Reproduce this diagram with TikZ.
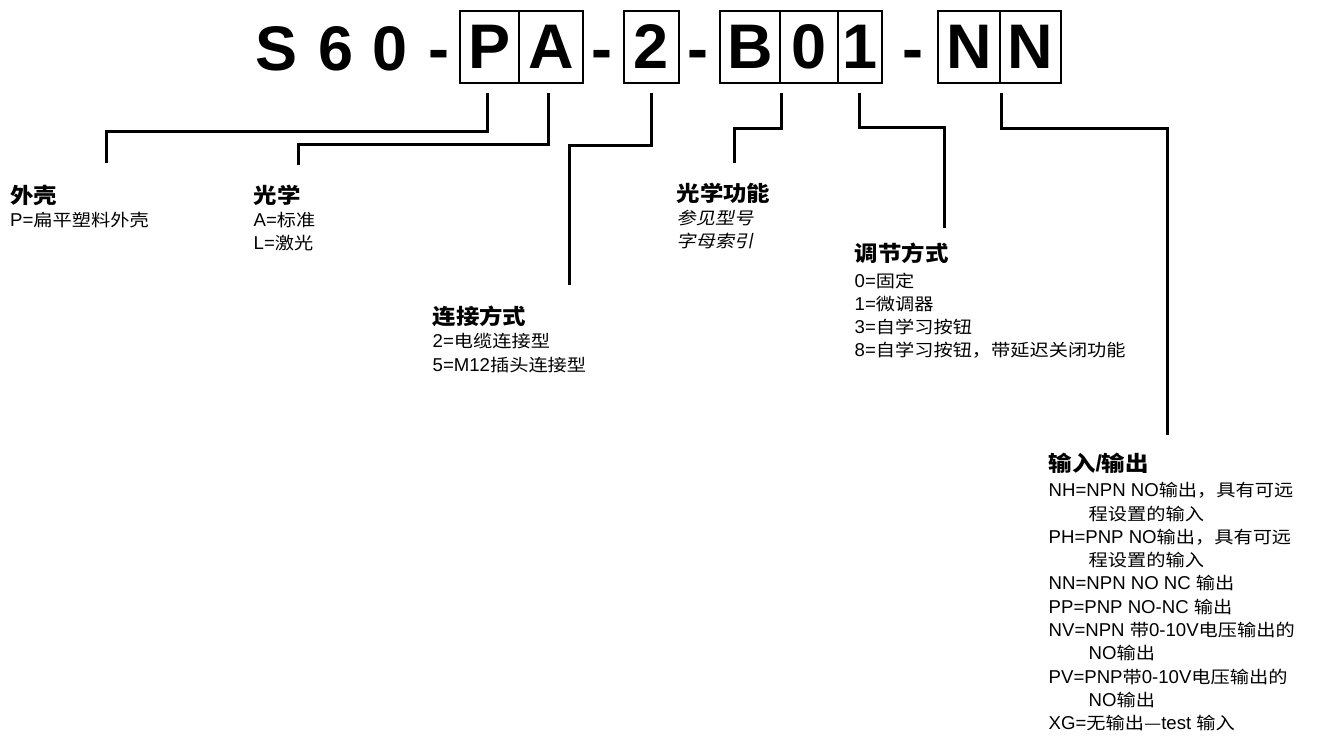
\documentclass[tikz,border=0pt]{standalone}
\usepackage{fontspec}
\setmainfont{Liberation Sans}
\newfontfamily\cjk[FakeStretch=1.13]{Noto Sans CJK SC}
\newfontfamily\cjkt[FakeStretch=1.1]{Noto Sans CJK SC}
\newfontfamily\cjki[FakeStretch=1.13,FakeSlant=0.2]{Noto Sans CJK SC}
\newcommand\zh[1]{{\cjk\fontsize{17}{23}\selectfont #1}}
\newcommand\zhi[1]{{\cjki\fontsize{17}{23}\selectfont #1}}
\newcommand\zhb[1]{{\cjkt\bfseries\fontsize{21.3}{24}\selectfont #1}}
\begin{document}
\begin{tikzpicture}[x=1pt,y=-1pt,
  big/.style={font=\fontsize{63}{63}\selectfont\bfseries, inner sep=0pt},
  bigt/.style={big, anchor=base},
  cell/.style={big, draw, line width=1.5pt, minimum height=72pt, anchor=center},
  lbl/.style={anchor=base west, inner sep=0pt, font=\fontsize{18.6}{23}\selectfont},
  ttl/.style={anchor=base west, inner sep=0pt, font=\fontsize{23}{24}\selectfont\bfseries},
  lead/.style={line width=3pt, line join=miter}]
\useasboundingbox (0,0) rectangle (1320,736);

% code letters
\node[bigt] (lS) at (277,70) {S};
\node[bigt] (l6) at (336,70) {6};
\node[bigt] (l0) at (390,70) {0};
\node[bigt] (d1) at (439,70) {-};
\node[cell, minimum width=59pt] (cP) at (489.5,47) {P};
\node[cell, minimum width=64pt] (cA) at (551,47) {A};
\node[bigt] (d2) at (602,70) {-};
\node[cell, minimum width=55pt] (cTwo) at (651.5,47) {2};
\node[bigt] (d3) at (698,70) {-};
\node[cell, minimum width=60pt] (cB) at (750,47) {B};
\node[cell, minimum width=58pt] (cZero) at (809,47) {0};
\node[cell, minimum width=44pt] (cOne) at (860,47) {1};
\node[bigt] (d4) at (913,70) {-};
\node[cell, minimum width=62pt] (cN1) at (969,47) {N};
\node[cell, minimum width=61pt] (cN2) at (1030.5,47) {N};

% leader end points
\coordinate (eP) at (106,163);
\coordinate (eA) at (298,165);
\coordinate (eTwo) at (569,285);
\coordinate (eB) at (734,163);
\coordinate (eOne) at (944,228);
\coordinate (eN) at (1167,435);

\draw[lead] ([xshift=-2.5pt,yshift=-9pt]cP.south) -- ++(0,39) -| (eP);
\draw[lead] ([xshift=-3pt,yshift=-9pt]cA.south) -- ++(0,52) -| (eA);
\draw[lead] ([yshift=-9pt]cTwo.south) -- ++(0,53) -| (eTwo);
\draw[lead] ([xshift=1pt,yshift=-9pt]cB.south east) -- ++(0,36) -| (eB);
\draw[lead] ([xshift=-1pt,yshift=-9pt]cOne.south) -- ++(0,35) -| (eOne);
\draw[lead] ([xshift=1pt,yshift=-9pt]cN1.south east) -- ++(0,36) -| (eN);

% housing
\node[ttl] (tH) at (10,203) {\zhb{外壳}};
\node[lbl] (h1) at (10,226) {P=\zh{扁平塑料外壳}};

% optics
\node[ttl] (tO) at (253.5,203) {\zhb{光学}};
\node[lbl] (o1) at (253.5,226.5) {A=\zh{标准}};
\node[lbl] (o2) at (253.5,249.5) {L=\zh{激光}};

% connection
\node[ttl] (tC) at (432.5,324) {\zhb{连接方式}};
\node[lbl] (c1) at (432.5,347.5) {2=\zh{电缆连接型}};
\node[lbl] (c2) at (432.5,371.5) {5=M12\zh{插头连接型}};

% optical function
\node[ttl] (tF) at (676.5,201.6) {\zhb{光学功能}};
\node[lbl] (f1) at (676.5,224.5) {\zhi{参见型号}};
\node[lbl] (f2) at (676.5,247.5) {\zhi{字母索引}};

% adjustment
\node[ttl] (tA) at (854.5,261.6) {\zhb{调节方式}};
\node[lbl] (a1) at (854.5,287) {0=\zh{固定}};
\node[lbl] (a2) at (854.5,310) {1=\zh{微调器}};
\node[lbl] (a3) at (854.5,333) {3=\zh{自学习按钮}};
\node[lbl] (a4) at (854.5,356.5) {8=\zh{自学习按钮，带延迟关闭功能}};

% input / output
\node[ttl] (tI) at (1048.5,471) {\zhb{输入}/\zhb{输出}};
\node[lbl] (i1) at (1048.5,496.7) {NH=NPN NO\zh{输出，具有可远}};
\node[lbl] (i2) at (1088.5,520) {\zh{程设置的输入}};
\node[lbl] (i3) at (1048.5,543.3) {PH=PNP NO\zh{输出，具有可远}};
\node[lbl] (i4) at (1088.5,566.6) {\zh{程设置的输入}};
\node[lbl] (i5) at (1048.5,589.9) {NN=NPN NO NC \zh{输出}};
\node[lbl] (i6) at (1048.5,613.2) {PP=PNP NO-NC \zh{输出}};
\node[lbl] (i7) at (1048.5,636.5) {NV=NPN \zh{带}0-10V\zh{电压输出的}};
\node[lbl] (i8) at (1088.5,659.8) {NO\zh{输出}};
\node[lbl] (i9) at (1048.5,683.1) {PV=PNP\zh{带}0-10V\zh{电压输出的}};
\node[lbl] (i10) at (1088.5,706.4) {NO\zh{输出}};
\node[lbl] (i11) at (1048.5,729.7) {XG=\zh{无输出—}test \zh{输入}};
\end{tikzpicture}
\end{document}
